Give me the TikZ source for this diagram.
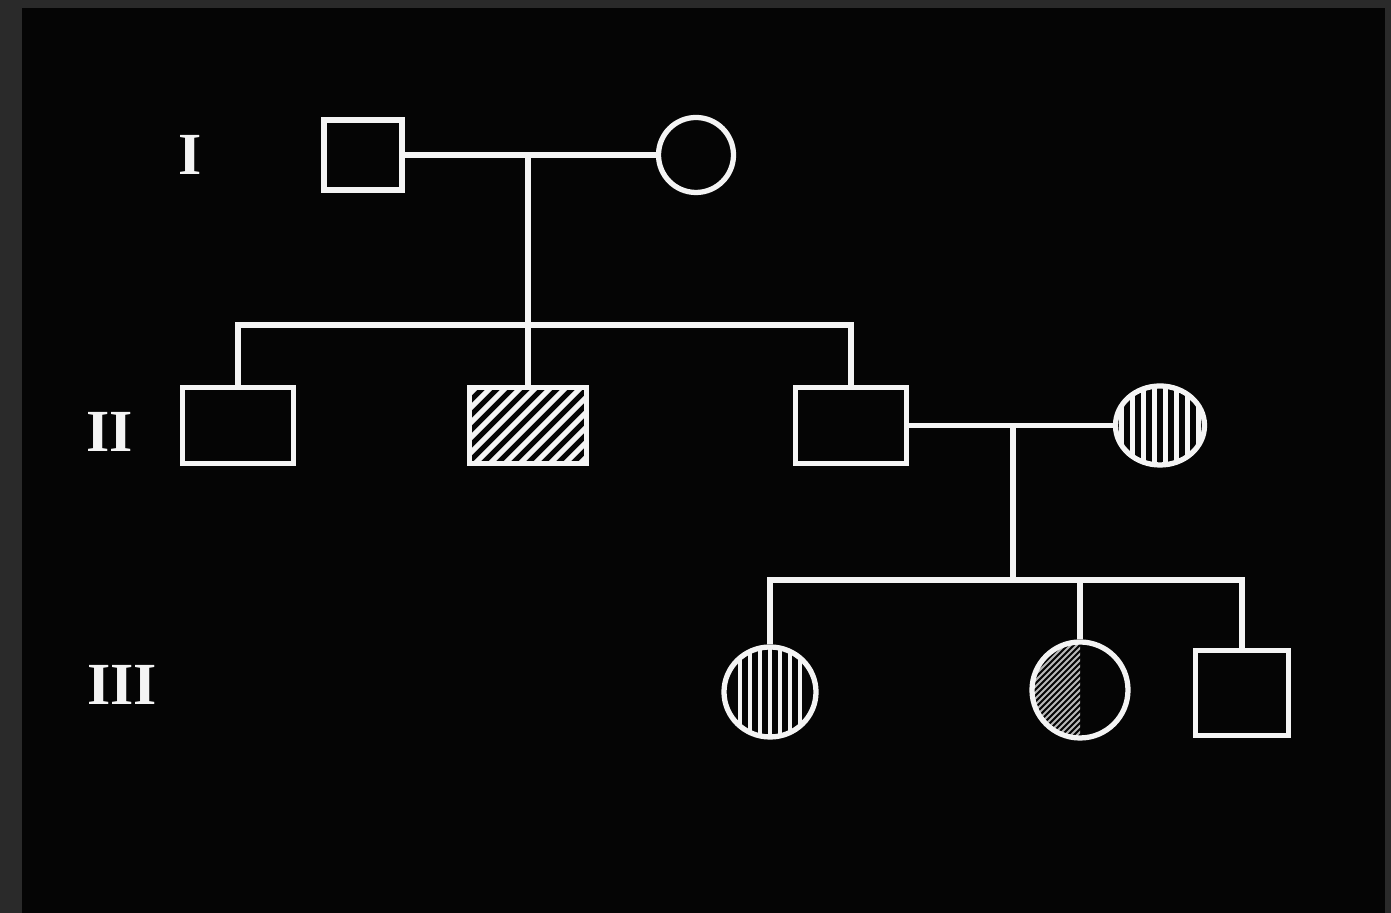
\documentclass[tikz,border=0pt]{standalone}
\usepackage{fontspec}
\setmainfont{Liberation Serif}
\usepackage{tikz}
\usetikzlibrary{calc,positioning,shapes.geometric}
\definecolor{boardBlack}{HTML}{050505}
\definecolor{frameGrey}{HTML}{2A2A2A}
\definecolor{chalk}{HTML}{F4F4F4}

\begin{document}
\begin{tikzpicture}[
  every node/.style={font=\fontsize{17}{20}\selectfont\bfseries, text=chalk},
  male/.style={draw=chalk, line width=1.5pt, rectangle, inner sep=0pt},
  female/.style={draw=chalk, line width=1.5pt, ellipse, inner sep=0pt},
  diaghatch/.style={path picture={
      \foreach \k in {-8,...,8}
        \draw[chalk, line width=1.5pt] ([xshift=\k*0.15cm]path picture bounding box.center)
          ++(-0.6,-0.6) -- ++(1.2,1.2);}},
  vhatch/.style={path picture={
      \foreach \k in {#1}
        \draw[chalk, line width=1.4pt] ([xshift=\k cm]path picture bounding box.north)
          -- ([xshift=\k cm]path picture bounding box.south);}},
  halfhatch/.style={path picture={
      \clip (path picture bounding box.south west) rectangle (path picture bounding box.north);
      \foreach \k in {-12,...,12}
        \draw[chalk!75!black, line width=0.6pt] ([xshift=\k*0.06cm]path picture bounding box.center)
          ++(-0.6,-0.6) -- ++(1.2,1.2);}},
  link/.style={draw=chalk, line width=1.5pt},
]

% Board
\useasboundingbox (0,0) rectangle (13.91,9.13);
\fill[frameGrey] (0,0) rectangle (13.91,9.13);
\fill[boardBlack] (0.22,0) rectangle (13.85,9.05);

% Generation labels
\node (genI) at (1.90,7.58) {I};
\node (genII) at (1.10,4.81) {II};
\node (genIII) at (1.22,2.28) {III};

% Generation I
\node[male, minimum width=0.78cm, minimum height=0.70cm] (f1) at (3.63,7.58) {};
\node[female, minimum width=0.75cm, minimum height=0.75cm] (m1) at (6.96,7.58) {};

% Generation II
\node[male, minimum width=1.11cm, minimum height=0.76cm] (s1) at (2.38,4.875) {};
\node[male, diaghatch, minimum width=1.17cm, minimum height=0.76cm] (s2) at (5.28,4.875) {};
\node[male, minimum width=1.11cm, minimum height=0.76cm] (s3) at (8.51,4.875) {};
\node[female, vhatch={-0.385,-0.275,-0.165,-0.055,0.055,0.165,0.275,0.385},
      minimum width=0.89cm, minimum height=0.79cm] (w3) at (11.60,4.875) {};

% Generation III
\node[female, vhatch={-0.3,-0.2,-0.1,0,0.1,0.2,0.3},
      minimum width=0.92cm, minimum height=0.90cm] (d1) at (7.70,2.21) {};
\node[female, halfhatch, minimum width=0.96cm, minimum height=0.96cm] (d2) at (10.80,2.23) {};
\node[male, minimum width=0.93cm, minimum height=0.85cm] (d3) at (12.42,2.20) {};

% Marriages and descent
\coordinate (c1) at (5.28,7.58);
\coordinate (k1) at (5.28,5.88);
\coordinate (c2) at (10.13,4.875);
\coordinate (k2) at (10.13,3.33);
\draw[link] (f1.east) -- (m1.west);
\draw[link] (c1) -- (k1);
\draw[link] (s3.east) -- (w3.west);
\draw[link] (c2) -- (k2);

% Sibships
\draw[link] (s1.north) |- (k1) -| (s3.north);
\draw[link] (k1) -- (s2.north);
\draw[link] (d1.north) |- (k2) -| (d3.north);
\draw[link] (d2.north) -- (d2.north |- k2);

\end{tikzpicture}
\end{document}
